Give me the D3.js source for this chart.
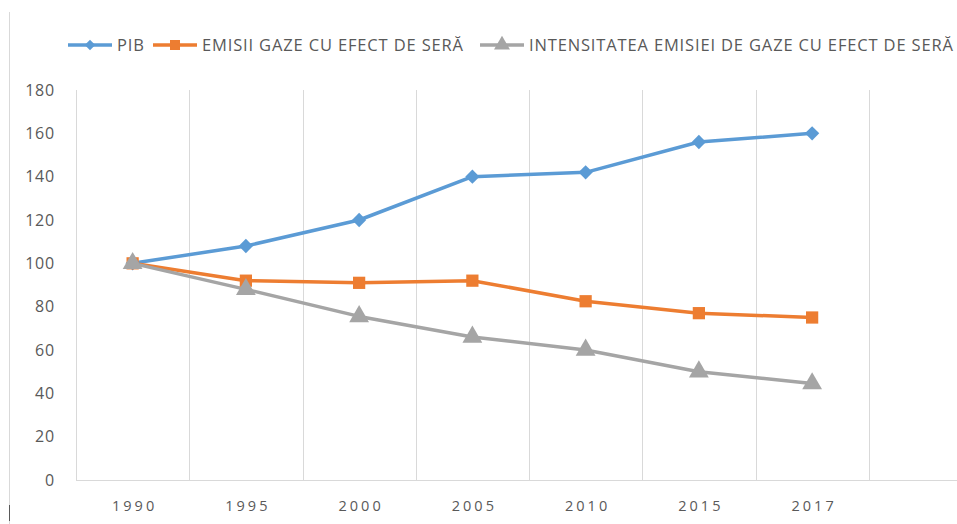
<!DOCTYPE html>
<html>
<head>
<meta charset="utf-8">
<script src="https://cdn.jsdelivr.net/npm/d3@7"></script>
<style>
  body { margin: 0; background: #fff; }
  text { font-family: "Open Sans", Lato, sans-serif; fill: #595959; }
</style>
</head>
<body>
<div id="chart"></div>
<script>
// Datele graficului
const years = ["1990", "1995", "2000", "2005", "2010", "2015", "2017", ""]
const pib = [100, 108, 120, 140, 142, 156, 160]
const emisii = [100, 92, 91, 92, 82.5, 77, 75]
const intensitate = [100, 88, 75.5, 66, 60, 50, 44.5]
const yTicks = [0, 20, 40, 60, 80, 100, 120, 140, 160, 180]

const seriesNames = ["PIB", "EMISII GAZE CU EFECT DE SERĂ", "INTENSITATEA EMISIEI DE GAZE CU EFECT DE SERĂ"]
const seriesColors = ["#5B9BD5", "#ED7D31", "#A5A5A5"]
const seriesSymbols = [d3.symbolDiamond2, d3.symbolSquare, d3.symbolTriangle]

const width = 957
const height = 524
const margin = { top: 90, bottom: 44, left: 76, right: -25 }

const svg = d3.select("#chart")
    .append("svg")
    .attr("width", width)
    .attr("height", height)

// borde izquierdo
svg.append("line")
    .attr("x1", 9.5).attr("x2", 9.5)
    .attr("y1", 12).attr("y2", height)
    .attr("stroke", "#d9d9d9")
svg.append("line")
    .attr("x1", 9.5).attr("x2", 9.5)
    .attr("y1", 505).attr("y2", 521)
    .attr("stroke", "#595959")

const x = d3.scaleBand().domain(years).range([margin.left, width - margin.right])
const y = d3.scaleLinear().domain([0, 180]).range([height - margin.bottom, margin.top])

// líneas verticales de la cuadrícula
const gridX = years.map(d => x(d)).concat([x(years[years.length - 1]) + x.bandwidth()])
svg.append("g").selectAll("line")
    .data(gridX)
    .join("line")
    .attr("x1", d => Math.round(d) + 0.5)
    .attr("x2", d => Math.round(d) + 0.5)
    .attr("y1", y(180))
    .attr("y2", y(0))
    .attr("stroke", "#d9d9d9")

// eje x
svg.append("line")
    .attr("x1", margin.left).attr("x2", width)
    .attr("y1", Math.round(y(0)) + 0.5).attr("y2", Math.round(y(0)) + 0.5)
    .attr("stroke", "#d9d9d9")

svg.append("g").selectAll("text")
    .data(years)
    .join("text")
    .attr("x", d => x(d) + x.bandwidth() / 2 + 2)
    .attr("y", y(0) + 31)
    .attr("text-anchor", "middle")
    .style("font-size", "14.5px")
    .style("letter-spacing", "3px")
    .text(d => d)

// eje y
svg.append("g").selectAll("text")
    .data(yTicks)
    .join("text")
    .attr("x", 55)
    .attr("y", d => y(d))
    .attr("dy", "0.35em")
    .attr("text-anchor", "end")
    .style("font-size", "16px")
    .style("letter-spacing", "0.8px")
    .text(d => d)

// series
const allSeries = [pib, emisii, intensitate]
const line = d3.line()
    .x((d, i) => x(years[i]) + x.bandwidth() / 2)
    .y(d => y(d))

allSeries.forEach((values, k) => {
    svg.append("path")
        .datum(values)
        .attr("fill", "none")
        .attr("stroke", seriesColors[k])
        .attr("stroke-width", 3.5)
        .attr("stroke-linejoin", "round")
        .attr("d", line)
})
allSeries.forEach((values, k) => {
    svg.append("g").selectAll("path")
        .data(values)
        .join("path")
        .attr("transform", (d, i) => `translate(${x(years[i]) + x.bandwidth() / 2}, ${y(d)})`)
        .attr("d", d3.symbol().type(seriesSymbols[k]).size([130, 150, 170][k]))
        .attr("fill", seriesColors[k])
})

// leyenda
const legendX = [68, 153, 480]
const legend = svg.append("g")
seriesNames.forEach((name, k) => {
    const g = legend.append("g").attr("transform", `translate(${legendX[k]}, 45)`)
    g.append("line")
        .attr("x1", 0).attr("x2", 44)
        .attr("stroke", seriesColors[k])
        .attr("stroke-width", 3.5)
    g.append("path")
        .attr("transform", "translate(22, 0)")
        .attr("d", d3.symbol().type(seriesSymbols[k]).size([70, 100, 110][k]))
        .attr("fill", seriesColors[k])
    g.append("text")
        .attr("x", 49)
        .attr("dy", "0.36em")
        .style("font-size", "16.5px")
        .style("letter-spacing", "0.85px")
        .text(name)
})
</script>
</body>
</html>
